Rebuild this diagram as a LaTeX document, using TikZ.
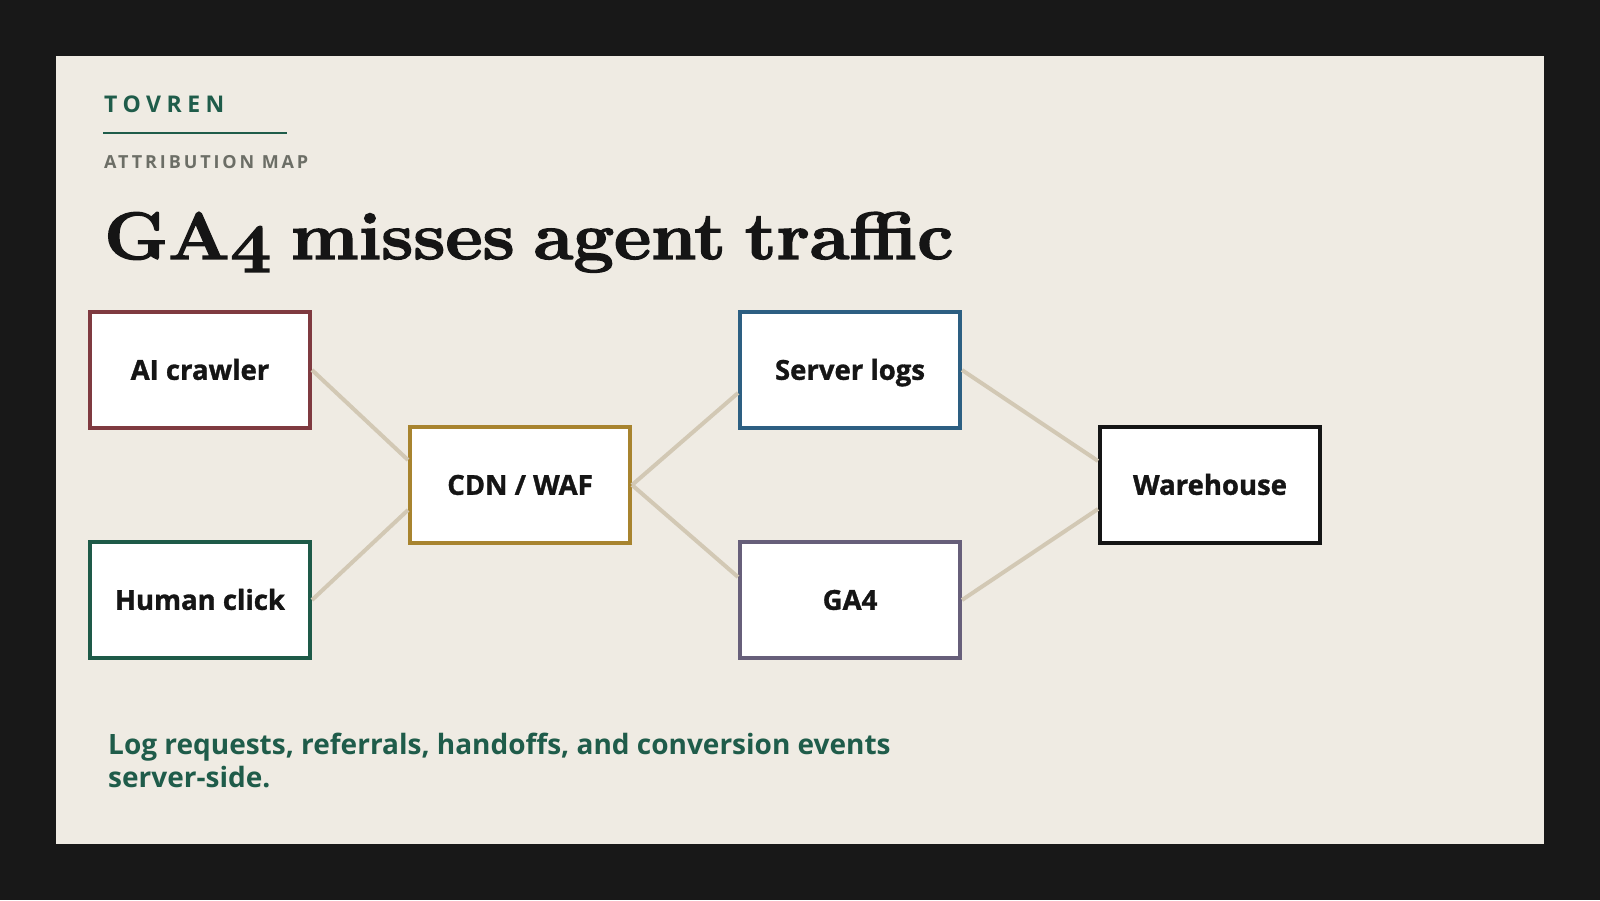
\documentclass[tikz,border=0pt]{standalone}
\usepackage{fontspec}
\usepackage{graphicx}
\usetikzlibrary{calc}
\newfontfamily\osans{Open Sans}
\newfontfamily\osansheavy{Open Sans}[BoldFeatures={FakeBold=1.2}]
\newfontfamily\osanswide{Open Sans}[LetterSpace=24]
\newfontfamily\osansmid{Open Sans}[LetterSpace=16]
\newfontfamily\titlefont{Latin Modern Roman}[Numbers=OldStyle, WordSpace=0.7, BoldFeatures={FakeBold=2}]
\definecolor{bgdark}{HTML}{181818}
\definecolor{panel}{HTML}{EFEBE3}
\definecolor{brandgreen}{HTML}{1F5C4A}
\definecolor{subgray}{HTML}{6C6E66}
\definecolor{ink}{HTML}{151515}
\definecolor{edgecol}{HTML}{D2C8B4}
\definecolor{cmaroon}{HTML}{7F3A40}
\definecolor{cgreen}{HTML}{1E5A48}
\definecolor{cgold}{HTML}{A8842F}
\definecolor{cblue}{HTML}{2D5F82}
\definecolor{cpurple}{HTML}{675F7A}
\definecolor{cblack}{HTML}{151515}
\tikzset{
  box/.style={draw, line width=4pt, fill=white, minimum width=220pt, minimum height=116pt,
    inner sep=0pt, text height=19.6pt, text depth=0pt, text=ink,
    font=\osansheavy\bfseries\fontsize{27.5}{32}\selectfont},
  edge/.style={draw=edgecol, line width=4pt},
}
\begin{document}
\begin{tikzpicture}[x=1pt,y=-1pt]
\useasboundingbox (0,0) rectangle (1600,900);
\fill[bgdark] (0,0) rectangle (1600,900);
\fill[panel] (56,56) rectangle (1544,844);
% header
\node[anchor=base west, inner sep=0pt, text=brandgreen, font=\osanswide\bfseries\fontsize{23}{26}\selectfont] (brand) at (104,112) {TOVREN};
\draw[brandgreen, line width=2pt] (103,133) -- (287,133);
\node[anchor=base west, inner sep=0pt, text=subgray, font=\osansmid\bfseries\fontsize{18}{22}\selectfont] (kicker) at (104,168) {ATTRIBUTION MAP};
\node[anchor=base west, inner sep=0pt, text=ink, font=\titlefont\bfseries\fontsize{67}{76}\selectfont] (title) at (104,259) {\scalebox{1.08}[1]{GA4 misses agent traffic}};
% nodes
\node[box, draw=cmaroon] (ai) at (200,370) {AI crawler};
\node[box, draw=cgreen] (human) at (200,600) {Human click};
\node[box, draw=cgold] (cdn) at (520,485) {CDN / WAF};
\node[box, draw=cblue] (logs) at (850,370) {Server logs};
\node[box, draw=cpurple] (ga) at (850,600) {GA4};
\node[box, draw=cblack] (wh) at (1210,485) {Warehouse};
% edges
\draw[edge] (ai.east) -- ($(cdn.west)+(0,-25)$);
\draw[edge] (human.east) -- ($(cdn.west)+(0,25)$);
\draw[edge] (cdn.east) -- ($(logs.west)+(0,23)$);
\draw[edge] (cdn.east) -- ($(ga.west)+(0,-23)$);
\draw[edge] (logs.east) -- ($(wh.west)+(0,-24)$);
\draw[edge] (ga.east) -- ($(wh.west)+(0,24)$);
% footer
\node[anchor=base west, inner sep=0pt, text=brandgreen, align=left, font=\osans\bfseries\fontsize{28}{32.5}\selectfont] (foot) at (108,787) {Log requests, referrals, handoffs, and conversion events\\server-side.};
\end{tikzpicture}
\end{document}
